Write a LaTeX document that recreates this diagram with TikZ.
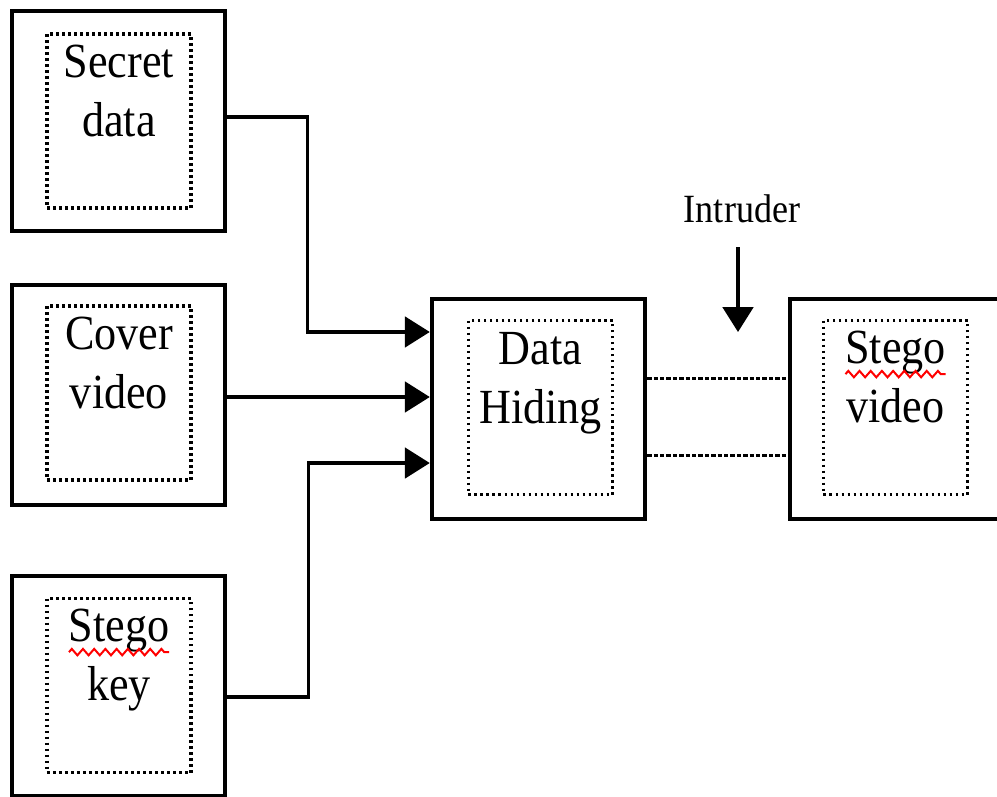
\documentclass[tikz,border=0pt]{standalone}
\usepackage{fontspec}
\setmainfont{Liberation Serif}[FakeStretch=0.9]
\usepackage{tikz}
\usetikzlibrary{arrows.meta, positioning, decorations.pathmorphing}

\begin{document}
\begin{tikzpicture}[
    x=0.025cm, y=-0.025cm,
    outer/.style={rectangle, draw, line width=0.11cm, minimum width=5.325cm, minimum height=5.5cm},
    inner/.style={rectangle, draw, line width=0.08cm, dash pattern=on 0.07cm off 0.08cm, minimum width=3.6cm, minimum height=4.35cm},
    txt/.style={align=center, inner sep=0pt, font=\fontsize{34.9pt}{42pt}\selectfont},
    lbl/.style={inner sep=0pt, font=\fontsize{28.5pt}{34pt}\selectfont},
    arrow/.style={-{Triangle[length=0.62cm, width=0.76cm]}, line width=0.08cm},
    link/.style={line width=0.075cm, dash pattern=on 0.11cm off 0.05cm},
    squig/.style={red, line width=0.05cm, decorate, decoration={zigzag, amplitude=0.08cm, segment length=0.28cm}},
  ]
    \useasboundingbox (0,0) rectangle (997,796);

    % Nodes
    \node[outer] (secret) at (118.5,121) {};
    \node[inner] (secretin) at (119,121) {};
    \node[txt, below=0.3cm of secretin.north] (secrettxt) {Secret\\data};

    \node[outer] (cover) at (118.5,395) {};
    \node[inner] (coverin) at (119,393) {};
    \node[txt, below=0.3cm of coverin.north] (covertxt) {Cover\\video};

    \node[outer] (key) at (118.5,686) {};
    \node[inner] (keyin) at (119,685.5) {};
    \node[txt, below=0.3cm of keyin.north] (keytxt) {Stego\\key};

    \node[outer] (hiding) at (538.5,409) {};
    \node[inner] (hidingin) at (540.5,407.5) {};
    \node[txt, below=0.33cm of hidingin.north] (hidingtxt) {Data\\Hiding};

    \node[outer] (stego) at (896.5,409) {};
    \node[inner] (stegoin) at (895.5,407.5) {};
    \node[txt, below=0.3cm of stegoin.north] (stegotxt) {Stego\\video};

    \node[lbl] (intruder) at (742,209) {Intruder};
    \coordinate (tap) at (738,332);

    % Spelling marks
    \draw[squig] ([xshift=-1.25cm, yshift=-1.08cm]keytxt.north) -- ([xshift=1.25cm, yshift=-1.08cm]keytxt.north);
    \draw[squig] ([xshift=-1.25cm, yshift=-1.08cm]stegotxt.north) -- ([xshift=1.25cm, yshift=-1.08cm]stegotxt.north);

    % Arrows
    \coordinate (in1) at ([yshift=1.925cm]hiding.west);
    \coordinate (in2) at ([yshift=0.3cm]hiding.west);
    \coordinate (in3) at ([yshift=-1.35cm]hiding.west);
    \draw[arrow] ([yshift=0.1cm]secret.east) -- ++(80,0) |- (in1);
    \draw[arrow] (cover.east |- in2) -- (in2);
    \draw[arrow] ([yshift=-0.275cm]key.east) -- ++(81,0) |- (in3);
    \draw[arrow] (tap |- intruder.south) ++(0,24) -- (tap);
    \draw[link] ([yshift=0.775cm]hiding.east) -- ([yshift=0.775cm]stego.west);
    \draw[link] ([yshift=-1.15cm]hiding.east) -- ([yshift=-1.15cm]stego.west);

  \end{tikzpicture}
\end{document}
